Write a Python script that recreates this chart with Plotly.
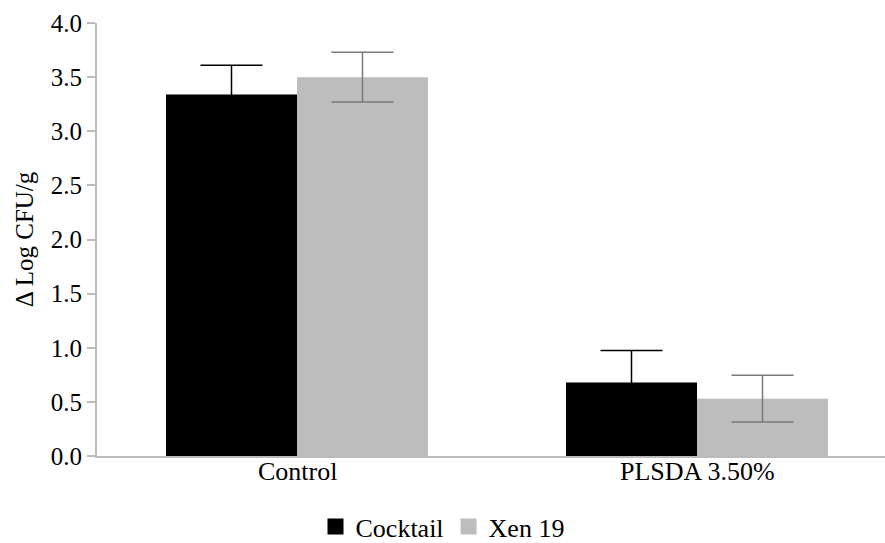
import plotly.graph_objects as go

categories = ["Control", "PLSDA 3.50%"]
cocktail = [3.34, 0.68]
cocktail_err = [0.27, 0.295]
xen19 = [3.50, 0.53]
xen19_err = [0.23, 0.217]
y_ticks = [0.0, 0.5, 1.0, 1.5, 2.0, 2.5, 3.0, 3.5, 4.0]

font_family = "Times New Roman, Liberation Serif, serif"
black = "#000000"
gray = "#bdbdbd"

fig = go.Figure()
fig.add_trace(go.Bar(
    name="Cocktail", x=categories, y=cocktail, showlegend=False,
    marker=dict(color=black, line=dict(width=0)),
    error_y=dict(type="data", array=cocktail_err, visible=True,
                 color=black, thickness=1.5, width=31),
))
fig.add_trace(go.Bar(
    name="Xen 19", x=categories, y=xen19, showlegend=False,
    marker=dict(color=gray, line=dict(width=0)),
    error_y=dict(type="data", array=xen19_err, visible=True,
                 color="#7a7a7a", thickness=1.5, width=31),
))
# legend entries with large square swatches
for name, col in [("Cocktail", black), ("Xen 19", gray)]:
    fig.add_trace(go.Scatter(
        x=[None], y=[None], mode="markers", name=name,
        marker=dict(symbol="square", size=20, color=col),
    ))

# category labels placed just under the axis line
for cat in categories:
    fig.add_annotation(x=cat, y=0, xref="x", yref="y", text=cat,
                       showarrow=False, yanchor="top", yshift=1,
                       font=dict(family=font_family, size=26, color=black))

fig.update_layout(
    width=885, height=543,
    margin=dict(l=97, r=0, t=23, b=87),
    paper_bgcolor="white", plot_bgcolor="white",
    barmode="group", bargap=0.345, bargroupgap=0,
    font=dict(family=font_family, size=22, color=black),
    showlegend=True,
    legend=dict(orientation="h", xref="container", yref="container",
                x=0.5, xanchor="center", y=0.03, yanchor="middle",
                font=dict(family=font_family, size=26, color=black),
                itemwidth=30, tracegroupgap=0),
    xaxis=dict(range=[-0.5, 1.47], showline=True, linecolor="#bbbbbb", linewidth=2,
               ticks="", showgrid=False, zeroline=False, showticklabels=False),
    yaxis=dict(range=[0, 4.0], tickvals=y_ticks, tickformat=".1f",
               showline=True, linecolor="#bbbbbb", linewidth=2,
               ticks="outside", ticklen=8, tickcolor="#bbbbbb", tickwidth=2,
               showgrid=False, zeroline=False,
               tickfont=dict(family=font_family, size=25, color=black),
               title=dict(text="Δ Log CFU/g", standoff=10,
                          font=dict(family=font_family, size=25, color=black))),
)

fig.write_html("out.html")
